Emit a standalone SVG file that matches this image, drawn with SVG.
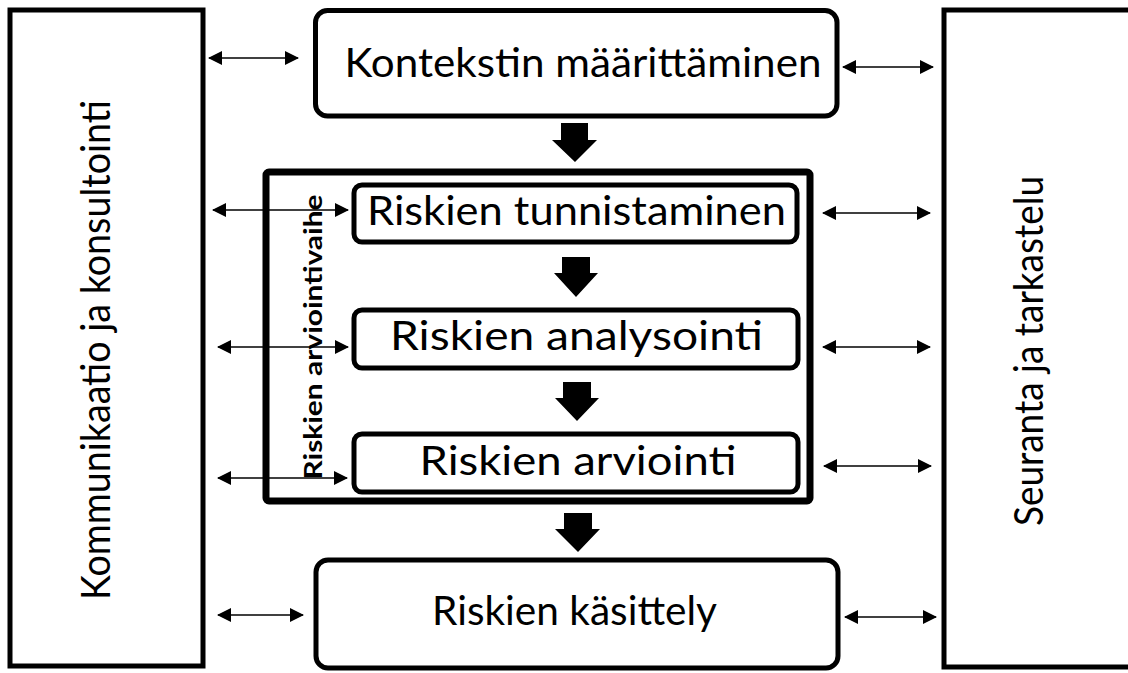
<svg xmlns="http://www.w3.org/2000/svg" width="1128" height="673" viewBox="0 0 1128 673">
  <style>
    .side { fill: #fff; stroke: #000; stroke-width: 5; }
    .box { fill: #fff; stroke: #000; stroke-width: 5; }
    .phase { fill: none; stroke: #000; stroke-width: 7; }
    .lbl { font-family: Lato, "Open Sans", sans-serif; font-size: 40px; fill: #000; text-anchor: middle; }
    .phase-lbl { font-family: Lato, "Open Sans", sans-serif; font-size: 25px; font-weight: bold; fill: #000; text-anchor: middle; }
    .link { stroke: #000; stroke-width: 1.6; fill: none; marker-start: url(#head); marker-end: url(#head); }
    .flow { fill: #000; }
  </style>
  <defs>
    <marker id="head" viewBox="0 0 14 14" refX="13" refY="7" markerWidth="14" markerHeight="14" markerUnits="userSpaceOnUse" orient="auto-start-reverse">
      <path d="M0,0 L14,7 L0,14 Z" fill="#000"/>
    </marker>
  </defs>
  <rect width="1128" height="673" fill="#fff"/>

  <!-- side panel: communication -->
  <g id="kommunikaatio">
    <rect class="side" x="10" y="10" width="193" height="656"/>
    <text class="lbl" transform="translate(110,350) rotate(-90)" textLength="500" lengthAdjust="spacingAndGlyphs">Kommunikaatio ja konsultointi</text>
  </g>

  <!-- side panel: monitoring -->
  <g id="seuranta">
    <rect class="side" x="944" y="10" width="200" height="657"/>
    <text class="lbl" transform="translate(1043,351) rotate(-90)" textLength="350" lengthAdjust="spacingAndGlyphs">Seuranta ja tarkastelu</text>
  </g>

  <g id="konteksti">
    <rect class="box" x="315.5" y="10.5" width="521.5" height="105.5" rx="12"/>
    <text class="lbl" x="583" y="77" textLength="477" lengthAdjust="spacingAndGlyphs">Kontekstin määrittäminen</text>
  </g>

  <!-- assessment phase frame -->
  <g id="arviointivaihe">
    <rect class="phase" x="266" y="172" width="544" height="329" rx="3"/>
    <text class="phase-lbl" transform="translate(322,337) rotate(-90)" textLength="285" lengthAdjust="spacingAndGlyphs">Riskien arviointivaihe</text>
  </g>

  <g id="tunnistaminen">
    <rect class="box" x="354" y="185" width="443" height="57" rx="8"/>
    <text class="lbl" x="576.5" y="225" textLength="419" lengthAdjust="spacingAndGlyphs">Riskien tunnistaminen</text>
  </g>

  <g id="analysointi">
    <rect class="box" x="354" y="310" width="444" height="58" rx="8"/>
    <text class="lbl" x="576.5" y="350" textLength="373" lengthAdjust="spacingAndGlyphs">Riskien analysointi</text>
  </g>

  <g id="arviointi">
    <rect class="box" x="354" y="434" width="444" height="58" rx="8"/>
    <text class="lbl" x="578" y="475" textLength="317" lengthAdjust="spacingAndGlyphs">Riskien arviointi</text>
  </g>

  <g id="kasittely">
    <rect class="box" x="316" y="560" width="522" height="108" rx="12"/>
    <text class="lbl" x="574.5" y="625" textLength="285" lengthAdjust="spacingAndGlyphs">Riskien käsittely</text>
  </g>

  <g id="connectors">
    <!-- process flow -->
    <path class="flow" d="M561,123 H588 V140 H597 L575,162 L552,140 H561 Z"/>
    <path class="flow" d="M562,257 H590 V273 H598 L576,297 L554,273 H562 Z"/>
    <path class="flow" d="M563,382 H591 V398 H599 L577,421 L555,398 H563 Z"/>
    <path class="flow" d="M564,513 H592 V529 H600 L578,552 L555,529 H564 Z"/>

    <!-- links to communication -->
    <line class="link" x1="209" y1="58" x2="298" y2="58"/>
    <line class="link" x1="213" y1="210" x2="348" y2="210"/>
    <line class="link" x1="218" y1="347" x2="348" y2="347"/>
    <line class="link" x1="218" y1="478" x2="347" y2="478"/>
    <line class="link" x1="218" y1="615" x2="303" y2="615"/>

    <!-- links to monitoring -->
    <line class="link" x1="843" y1="67" x2="933" y2="67"/>
    <line class="link" x1="823" y1="213" x2="930" y2="213"/>
    <line class="link" x1="823" y1="347" x2="930" y2="347"/>
    <line class="link" x1="824" y1="466" x2="931" y2="466"/>
    <line class="link" x1="845" y1="617" x2="936" y2="617"/>
  </g>
</svg>
